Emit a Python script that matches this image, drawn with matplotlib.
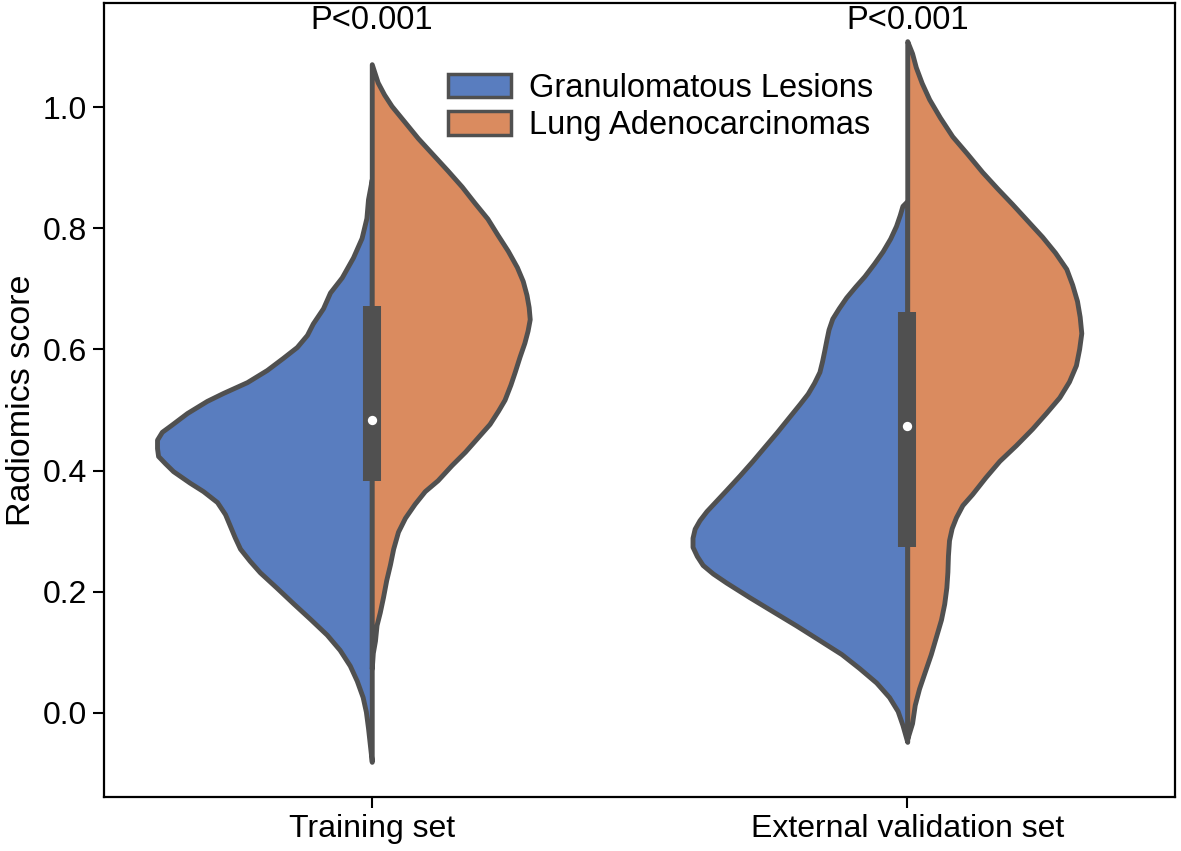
import matplotlib
matplotlib.use("Agg")
import matplotlib.pyplot as plt
from matplotlib.patches import Patch
import numpy as np

plt.rcParams['font.family'] = ['Liberation Sans', 'DejaVu Sans']

# categories and hue groups
groups = ["Training set", "External validation set"]
hues = ["Granulomatous Lesions", "Lung Adenocarcinomas"]
p_texts = ["P<0.001", "P<0.001"]

# density profiles: score values and half-widths (x units)
train_gl_y = [-0.081, -0.025, 0.002, 0.026, 0.053, 0.078, 0.104, 0.129, 0.155, 0.181, 0.206, 0.232,
              0.251, 0.271, 0.290, 0.309, 0.328, 0.348, 0.366, 0.380, 0.399, 0.412, 0.424, 0.437,
              0.451, 0.464, 0.475, 0.495, 0.515, 0.528, 0.546, 0.566, 0.586, 0.604, 0.624, 0.643,
              0.668, 0.694, 0.719, 0.752, 0.784, 0.817, 0.848, 0.881]
train_gl_w = [0.0, 0.007, 0.011, 0.017, 0.028, 0.041, 0.060, 0.084, 0.115, 0.147, 0.177, 0.209,
              0.228, 0.246, 0.256, 0.265, 0.274, 0.289, 0.315, 0.340, 0.371, 0.386, 0.399, 0.401,
              0.401, 0.392, 0.375, 0.345, 0.308, 0.278, 0.233, 0.196, 0.166, 0.140, 0.121, 0.110,
              0.091, 0.078, 0.056, 0.035, 0.019, 0.010, 0.007, 0.0]

train_la_y = [0.073, 0.099, 0.119, 0.145, 0.166, 0.191, 0.219, 0.245, 0.271, 0.299, 0.322, 0.345,
              0.366, 0.384, 0.409, 0.431, 0.455, 0.477, 0.499, 0.517, 0.542, 0.563, 0.588, 0.611,
              0.631, 0.650, 0.670, 0.690, 0.713, 0.736, 0.763, 0.789, 0.816, 0.842, 0.869, 0.895,
              0.922, 0.949, 0.975, 1.002, 1.021, 1.041, 1.071]
train_la_w = [0.0, 0.002, 0.006, 0.009, 0.015, 0.021, 0.027, 0.034, 0.040, 0.049, 0.062, 0.080,
              0.099, 0.123, 0.149, 0.174, 0.198, 0.220, 0.236, 0.248, 0.259, 0.267, 0.276, 0.285,
              0.291, 0.295, 0.293, 0.289, 0.282, 0.271, 0.254, 0.235, 0.216, 0.192, 0.168, 0.142,
              0.114, 0.086, 0.062, 0.037, 0.023, 0.011, 0.0]

ext_gl_y = [-0.048, -0.020, 0.003, 0.026, 0.050, 0.074, 0.097, 0.120, 0.144, 0.168, 0.191, 0.215,
            0.230, 0.244, 0.259, 0.274, 0.289, 0.304, 0.318, 0.333, 0.350, 0.368, 0.392, 0.416,
            0.439, 0.463, 0.486, 0.510, 0.527, 0.545, 0.563, 0.581, 0.598, 0.616, 0.633, 0.651,
            0.668, 0.686, 0.704, 0.721, 0.742, 0.762, 0.783, 0.804, 0.822, 0.837, 0.845]
ext_gl_w = [0.0, 0.009, 0.018, 0.034, 0.058, 0.090, 0.123, 0.164, 0.207, 0.252, 0.295, 0.338,
            0.363, 0.382, 0.393, 0.401, 0.401, 0.397, 0.388, 0.375, 0.357, 0.338, 0.313, 0.289,
            0.267, 0.244, 0.223, 0.201, 0.186, 0.174, 0.164, 0.159, 0.155, 0.151, 0.147, 0.140,
            0.128, 0.114, 0.097, 0.080, 0.062, 0.046, 0.032, 0.021, 0.014, 0.009, 0.0]

ext_la_y = [-0.043, -0.017, 0.013, 0.040, 0.066, 0.097, 0.127, 0.154, 0.180, 0.207, 0.233, 0.260,
            0.285, 0.305, 0.323, 0.343, 0.361, 0.389, 0.416, 0.442, 0.469, 0.495, 0.521, 0.547,
            0.574, 0.601, 0.627, 0.654, 0.680, 0.707, 0.733, 0.760, 0.786, 0.813, 0.840, 0.866,
            0.893, 0.923, 0.952, 0.983, 1.013, 1.040, 1.066, 1.089, 1.109]
ext_la_w = [0.0, 0.009, 0.014, 0.022, 0.032, 0.044, 0.054, 0.063, 0.069, 0.073, 0.075, 0.076,
            0.078, 0.083, 0.091, 0.103, 0.121, 0.146, 0.172, 0.203, 0.233, 0.259, 0.284, 0.302,
            0.315, 0.321, 0.325, 0.322, 0.317, 0.308, 0.297, 0.276, 0.252, 0.224, 0.196, 0.168,
            0.140, 0.112, 0.084, 0.061, 0.041, 0.027, 0.016, 0.009, 0.0]

# box summaries (both groups pooled) per set
q25 = [0.383, 0.274]
q50 = [0.484, 0.474]
q75 = [0.672, 0.662]

blue = "#597DBF"
orange = "#DA8B5F"
gray = "#505050"

fig = plt.figure(figsize=(11.81, 8.51), dpi=100)
ax = fig.add_axes([104 / 1181, 54 / 851, 1071 / 1181, 794 / 851])

profiles = [
    [(train_gl_y, train_gl_w), (train_la_y, train_la_w)],
    [(ext_gl_y, ext_gl_w), (ext_la_y, ext_la_w)],
]

for i, ((ly, lw_), (ry, rw)) in enumerate(profiles):
    ly = np.array(ly); lw_ = np.array(lw_)
    ry = np.array(ry); rw = np.array(rw)
    ax.fill_betweenx(ly, i - lw_, i, facecolor=blue, edgecolor=gray, linewidth=3.5,
                     joinstyle="round", zorder=2)
    ax.fill_betweenx(ry, i, i + rw, facecolor=orange, edgecolor=gray, linewidth=3.5,
                     joinstyle="round", zorder=2)
    # inner box
    ax.plot([i, i], [q25[i], q75[i]], color=gray, linewidth=13, solid_capstyle="butt", zorder=3)
    ax.scatter([i], [q50[i]], s=45, color="white", zorder=4, linewidths=0)
    ax.text(i, 1.1436, p_texts[i], ha="center", va="center", fontsize=23.5)

ax.set_xlim(-0.5, 1.5)
ax.set_ylim(-0.139, 1.172)
ax.set_xticks([0, 1])
ax.set_xticklabels(groups)
ax.set_yticks([0.0, 0.2, 0.4, 0.6, 0.8, 1.0])
ax.set_yticklabels(["0.0", "0.2", "0.4", "0.6", "0.8", "1.0"])
ax.tick_params(labelsize=23, length=8, width=1.5, pad=4)
ax.set_ylabel("Radiomics score", fontsize=24.5, labelpad=4)
for s in ax.spines.values():
    s.set_linewidth(1.6)

handles = [Patch(facecolor=blue, edgecolor=gray, linewidth=2.5),
           Patch(facecolor=orange, edgecolor=gray, linewidth=2.5)]
ax.legend(handles, hues, loc="upper left", bbox_to_anchor=(0.321, 0.912), frameon=False,
          fontsize=23.5, borderpad=0, borderaxespad=0, handletextpad=0.55, labelspacing=0.2,
          handlelength=1.93, handleheight=0.75)

fig.savefig("out.png", dpi=100)
